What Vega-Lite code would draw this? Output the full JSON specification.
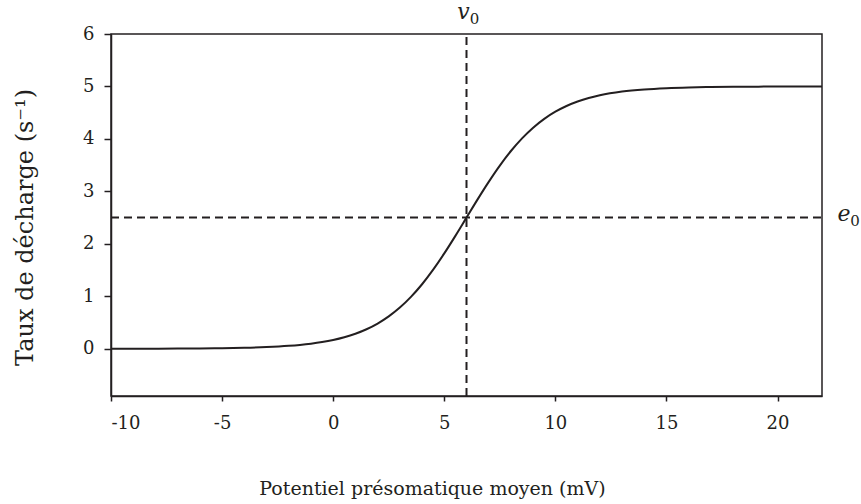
{
  "$schema": "https://vega.github.io/schema/vega-lite/v6.json",
  "width": 711,
  "height": 362,
  "autosize": {"type": "none"},
  "padding": {"left": 111, "top": 34, "right": 39, "bottom": 108},
  "background": "white",
  "config": {
    "view": {"stroke": "#231f20", "strokeWidth": 1.5},
    "font": "DejaVu Serif",
    "axis": {"grid": false, "domainColor": "#231f20", "tickColor": "#231f20", "labelColor": "#231f20", "titleColor": "#231f20", "labelFont": "DejaVu Serif", "titleFont": "DejaVu Serif", "labelFontSize": 18, "titleFontSize": 19, "titleFontWeight": "normal", "domainWidth": 1.5, "tickWidth": 1.5}
  },
  "datasets": {
    "curve": [
      {"v": -10, "rate": 0.0006}, {"v": -9, "rate": 0.0011}, {"v": -8, "rate": 0.002}, {"v": -7, "rate": 0.0034},
      {"v": -6, "rate": 0.006}, {"v": -5, "rate": 0.0105}, {"v": -4, "rate": 0.0184}, {"v": -3, "rate": 0.0322},
      {"v": -2, "rate": 0.056}, {"v": -1.5, "rate": 0.0739}, {"v": -1, "rate": 0.0973}, {"v": -0.5, "rate": 0.1279},
      {"v": 0, "rate": 0.1678}, {"v": 0.5, "rate": 0.2197}, {"v": 1, "rate": 0.2867}, {"v": 1.5, "rate": 0.3723},
      {"v": 2, "rate": 0.4811}, {"v": 2.5, "rate": 0.6174}, {"v": 3, "rate": 0.7854}, {"v": 3.5, "rate": 0.9891},
      {"v": 4, "rate": 1.23}, {"v": 4.5, "rate": 1.508}, {"v": 5, "rate": 1.818}, {"v": 5.5, "rate": 2.152},
      {"v": 6, "rate": 2.5}, {"v": 6.5, "rate": 2.848}, {"v": 7, "rate": 3.182}, {"v": 7.5, "rate": 3.492},
      {"v": 8, "rate": 3.77}, {"v": 8.5, "rate": 4.011}, {"v": 9, "rate": 4.215}, {"v": 9.5, "rate": 4.383},
      {"v": 10, "rate": 4.519}, {"v": 10.5, "rate": 4.628}, {"v": 11, "rate": 4.713}, {"v": 11.5, "rate": 4.78},
      {"v": 12, "rate": 4.832}, {"v": 13, "rate": 4.903}, {"v": 14, "rate": 4.944}, {"v": 15, "rate": 4.968},
      {"v": 16, "rate": 4.982}, {"v": 17, "rate": 4.989}, {"v": 18, "rate": 4.994}, {"v": 20, "rate": 4.998},
      {"v": 22, "rate": 4.9994}
    ],
    "vline": [{"v": 6, "rate": -0.9}, {"v": 6, "rate": 6}],
    "hline": [{"v": -10, "rate": 2.5}, {"v": 22, "rate": 2.5}],
    "labels": [
      {"v": 6, "rate": 6, "name": "v", "sub": "0", "kind": "top"},
      {"v": 22, "rate": 2.5, "name": "e", "sub": "0", "kind": "right"}
    ]
  },
  "layer": [
    {
      "data": {"name": "vline"},
      "mark": {"type": "line", "color": "#231f20", "strokeWidth": 2, "strokeDash": [8, 5], "clip": true},
      "encoding": {
        "x": {"field": "v", "type": "quantitative", "scale": {"domain": [-10, 22], "nice": false, "zero": false},
          "axis": {"values": [-10, -5, 0, 5, 10, 15, 20], "labelExpr": "datum.value < 0 ? '-' + abs(datum.value) : '' + datum.value", "tickSize": 5, "labelPadding": 13, "title": "Potentiel présomatique moyen (mV)", "titleX": 321, "titleY": 92, "titleBaseline": "middle", "titleAlign": "center"}},
        "y": {"field": "rate", "type": "quantitative", "scale": {"domain": [-0.9, 6], "nice": false, "zero": false},
          "axis": {"values": [0, 1, 2, 3, 4, 5, 6], "labelExpr": "'' + datum.value", "tickSize": 7, "labelPadding": 10, "title": "Taux de décharge (s⁻¹)", "titleFontSize": 24, "titleX": -86, "titleY": 193, "titleAngle": -90, "titleBaseline": "middle", "titleAlign": "center"}}
      }
    },
    {
      "data": {"name": "hline"},
      "mark": {"type": "line", "color": "#231f20", "strokeWidth": 2, "strokeDash": [8, 5]},
      "encoding": {
        "x": {"field": "v", "type": "quantitative"},
        "y": {"field": "rate", "type": "quantitative"}
      }
    },
    {
      "data": {"name": "curve"},
      "mark": {"type": "line", "color": "#231f20", "strokeWidth": 2, "interpolate": "monotone"},
      "encoding": {
        "x": {"field": "v", "type": "quantitative"},
        "y": {"field": "rate", "type": "quantitative"}
      }
    },
    {
      "data": {"name": "labels"},
      "transform": [{"filter": "datum.kind == 'top'"}],
      "mark": {"type": "text", "fontStyle": "italic", "font": "DejaVu Serif", "fontSize": 22, "color": "#231f20", "dx": -3, "dy": -22, "baseline": "middle", "align": "center", "clip": false},
      "encoding": {
        "x": {"field": "v", "type": "quantitative"},
        "y": {"field": "rate", "type": "quantitative"},
        "text": {"field": "name"}
      }
    },
    {
      "data": {"name": "labels"},
      "transform": [{"filter": "datum.kind == 'top'"}],
      "mark": {"type": "text", "font": "DejaVu Serif", "fontSize": 15, "color": "#231f20", "dx": 8, "dy": -15, "baseline": "middle", "align": "center", "clip": false},
      "encoding": {
        "x": {"field": "v", "type": "quantitative"},
        "y": {"field": "rate", "type": "quantitative"},
        "text": {"field": "sub"}
      }
    },
    {
      "data": {"name": "labels"},
      "transform": [{"filter": "datum.kind == 'right'"}],
      "mark": {"type": "text", "fontStyle": "italic", "font": "DejaVu Serif", "fontSize": 22, "color": "#231f20", "dx": 22, "dy": -4, "baseline": "middle", "align": "center", "clip": false},
      "encoding": {
        "x": {"field": "v", "type": "quantitative"},
        "y": {"field": "rate", "type": "quantitative"},
        "text": {"field": "name"}
      }
    },
    {
      "data": {"name": "labels"},
      "transform": [{"filter": "datum.kind == 'right'"}],
      "mark": {"type": "text", "font": "DejaVu Serif", "fontSize": 15, "color": "#231f20", "dx": 33, "dy": 3, "baseline": "middle", "align": "center", "clip": false},
      "encoding": {
        "x": {"field": "v", "type": "quantitative"},
        "y": {"field": "rate", "type": "quantitative"},
        "text": {"field": "sub"}
      }
    }
  ]
}
